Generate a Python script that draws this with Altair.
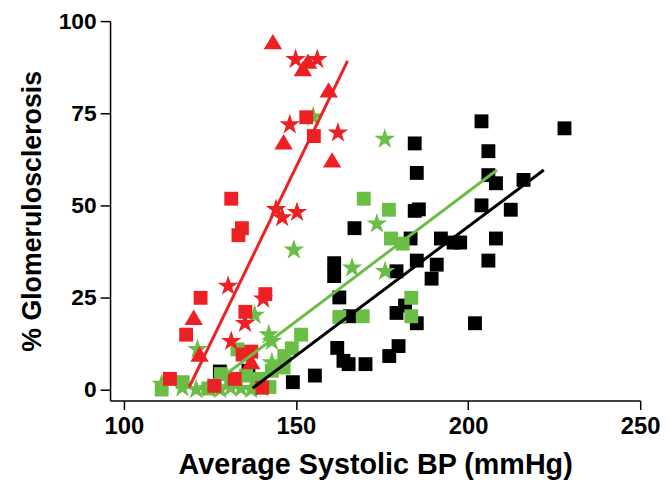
import altair as alt
import pandas as pd

# ---- data ----
black_sq_x = [203.9, 228, 184.5, 205.9, 185.1, 205.9, 208.1, 216.1, 203.9, 212.4, 184.5, 185.7, 167, 183.3,
              192.1, 195.8, 197.7, 208.1, 205.9, 185.1, 190.9, 161.1, 161.1, 179.2, 189.4, 162.6, 179.2,
              181.7, 185.1, 202, 165.7, 162, 163.8, 165.3, 170.2, 177.1, 179.8, 155.5, 149.1, 127.9, 136.2]
black_sq_y = [72.8, 70.9, 66.8, 64.7, 58.8, 58.2, 56, 56.9, 50, 48.8, 48.5, 48.9, 43.8, 41,
              41, 39.9, 39.9, 41, 35, 35, 33.9, 34.3, 30.8, 32.1, 30.1, 25, 20.8,
              22.8, 18, 18, 19.9, 11.3, 7.8, 6.9, 6.9, 9.1, 11.8, 3.8, 2, 4.9, 5.1]

green_sq_x = [169.7, 177, 177.6, 181, 183.5, 183.5, 162.6, 169.4, 151.5, 148.8, 146.6, 146.4, 143,
              142.3, 111, 117.1, 128.2, 131.2, 133, 135.5, 139.2, 124.5]
green_sq_y = [51.8, 48.8, 41, 39.6, 24.9, 19.9, 19.7, 19.9, 14.9, 11.2, 9.1, 6, 5.1,
              0.7, 0, 2, 4.2, 2.9, 10.9, 3.8, 2.9, 0.3]

green_star_x = [175.8, 173.5, 149.4, 166.3, 175.9, 155, 138, 142.1, 143, 121.4, 143, 111, 117, 121,
                124.5, 128, 131, 134, 137, 140]
green_star_y = [68, 45, 37.9, 33, 32.1, 74, 20.2, 14.9, 13.1, 10.9, 7.3, 1.5, 0.5, 0,
                0.3, 0, 0.5, 0.3, 0, 0.5]

red_sq_x = [153, 155.2, 131.2, 134.3, 133.3, 122.3, 141.1, 135.3, 118.1, 137, 134.5, 113.4, 132.2, 126.3, 140.2]
red_sq_y = [73.9, 68.8, 51.8, 43.8, 41.9, 24.9, 25.9, 21.1, 14.9, 10.3, 9.5, 2.9, 2.9, 1, 0.5]

red_tri_x = [143.3, 152, 153.5, 159.5, 146.4, 160.5, 120.3, 122, 137]
red_tri_y = [94.3, 87, 89, 81.2, 67.1, 62.2, 19.5, 9.5, 7.5]

red_star_x = [149.9, 156.2, 148.2, 162.2, 144.2, 146, 150.3, 130.3, 140.5, 131.2, 135.2]
red_star_y = [89.6, 89.6, 71.9, 69.7, 48.9, 46.7, 48.1, 28.1, 24.6, 13.1, 18]

# fitted lines (end points)
red_line_x, red_line_y = [119, 165], [0.7, 89.2]
green_line_x, green_line_y = [128, 208.4], [3, 59.6]
black_line_x, black_line_y = [137.4, 222], [0.4, 59.6]

x_ticks = [100, 150, 200, 250]
y_ticks = [0, 25, 50, 75, 100]

BLACK, GREEN, RED = "#000000", "#6ABD45", "#ED2024"

STAR = ("M0,-1L0.2245,-0.309L0.9511,-0.309L0.3633,0.118L0.5878,0.809L0,0.382"
        "L-0.5878,0.809L-0.3633,0.118L-0.9511,-0.309L-0.2245,-0.309Z")
TRI = "M0,-0.85L0.95,0.75L-0.95,0.75Z"
SQ = "M-1,-1L1,-1L1,1L-1,1Z"


def xenc():
    return alt.X("bp:Q", scale=alt.Scale(domain=[96, 250], nice=False, zero=False),
                 axis=alt.Axis(values=x_ticks, orient="bottom"),
                 title="Average Systolic BP (mmHg)")


def yenc():
    return alt.Y("gs:Q", scale=alt.Scale(domain=[-3, 100], nice=False, zero=False),
                 axis=alt.Axis(values=y_ticks, orient="left"),
                 title="% Glomerulosclerosis")


def pts_layer(xs, ys, color, shape, size):
    df = pd.DataFrame({"bp": xs, "gs": ys})
    return alt.Chart(df).mark_point(filled=True, opacity=1, strokeWidth=0, shape=shape,
                                    size=size, color=color).encode(x=xenc(), y=yenc())


def line_layer(xs, ys, color):
    df = pd.DataFrame({"bp": xs, "gs": ys})
    return alt.Chart(df).mark_line(strokeWidth=3, color=color).encode(x=xenc(), y=yenc())


layers = [
    pts_layer(black_sq_x, black_sq_y, BLACK, SQ, 196),
    pts_layer(green_sq_x, green_sq_y, GREEN, SQ, 196),
    pts_layer(green_star_x, green_star_y, GREEN, STAR, 480),
    pts_layer(red_sq_x, red_sq_y, RED, SQ, 196),
    pts_layer(red_tri_x, red_tri_y, RED, TRI, 380),
    pts_layer(red_star_x, red_star_y, RED, STAR, 480),
    line_layer(black_line_x, black_line_y, BLACK),
    line_layer(green_line_x, green_line_y, GREEN),
    line_layer(red_line_x, red_line_y, RED),
]

chart = alt.layer(*layers).properties(
    width=535, height=383,
    autosize=alt.AutoSizeParams(type="none"),
    padding={"left": 103, "top": 11, "right": 22, "bottom": 90},
).configure_view(stroke=None).configure_axis(
    grid=False,
    labelFont="Liberation Sans", labelFontWeight="bold", labelColor="#000",
    titleFont="Liberation Sans", titleFontWeight="bold", titleColor="#000",
    tickSize=10, tickWidth=1.5, domainWidth=1.5, domainColor="#000", tickColor="#000",
    labelFlush=False,
).configure_axisX(
    labelFontSize=24, titleFontSize=29, titlePadding=13, labelPadding=5, tickSize=9,
).configure_axisY(
    labelFontSize=23, titleFontSize=27, titlePadding=12, labelPadding=4,
)

chart.save("out.html", embed_options={"renderer": "svg", "actions": False})
